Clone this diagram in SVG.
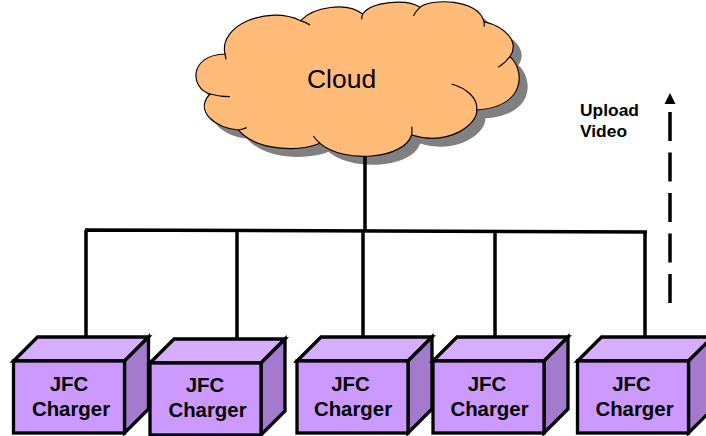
<svg xmlns="http://www.w3.org/2000/svg" width="706" height="436" viewBox="0 0 706 436">
<style>
text{font-family:"Liberation Sans",Arial,sans-serif;fill:#000}
.b{font-weight:bold;font-size:20.400px;text-anchor:middle}
.u{font-weight:bold;font-size:17.400px}
.c{fill:none;stroke:#000;stroke-width:3.500}
.f{fill:#CC99FF;stroke:#000;stroke-width:3.300}
.t{fill:#D6ADFF;stroke:#000;stroke-width:3.300}
.s{fill:#A37ACC;stroke:#000;stroke-width:3.300}
</style>
<defs>
<path id="cl" d="M135 162C115 75 265 15 362 62C400 20 500 5 548 42C575 5 680 -5 720 22C750 -5 895 -5 912 65C975 80 1020 125 990 170C1035 210 1040 320 890 330C895 370 810 440 695 405C670 480 490 490 420 430C360 455 230 455 175 390C110 385 40 335 90 282C30 265 25 165 135 162Z"/>
<g id="box">
<path class="t" d="M0 24L24 0H135L111 24Z"/>
<path class="s" d="M111 24L135 0V72L111 96Z"/>
<rect class="f" x="0" y="24" width="111" height="72"/>
</g>
</defs>
<g id="cloud">
<g transform="translate(188.500,8.500) scale(0.3333)"><use href="#cl" fill="#808080"/></g>
</g>
<g id="connectors">
<path class="c" d="M365 157V230M85 230L647 232M86 230V337M237 231V339M363 232V337M495 232V337M645 232V337"/>
<path fill="none" stroke="#000" stroke-width="3.500" stroke-dasharray="29 11.500" d="M670 303V104"/>
<path fill="#000" d="M670 93L675.500 104H664.500Z"/>
</g>
<g id="cloud-top">
<g transform="translate(180,0) scale(0.3333)">
<use href="#cl" fill="#FFBB77" stroke="#000" stroke-width="3.500"/>
<path fill="none" stroke="#000" stroke-width="3.500" d="M362 62Q378 67 390 75M548 42Q545 50 545 58M720 22Q708 33 700 48M912 65Q914 72 912 80M990 170Q975 190 955 202M815 252C860 265 895 295 890 330M695 405Q697 392 695 380M420 430Q408 420 400 408M175 390Q188 388 200 383M90 282Q120 290 150 290M135 162Q137 170 138 178"/>
</g>
<text x="341.500" y="88" font-size="26.500" text-anchor="middle">Cloud</text>
</g>
<g id="label-upload"><text class="u" x="580" y="116">Upload</text><text class="u" x="580" y="137">Video</text></g>
<g id="charger1"><use href="#box" x="13.500" y="337"/><text class="b" x="69" y="391">JFC</text><text class="b" x="71" y="416">Charger</text></g>
<g id="charger2"><use href="#box" x="150" y="339"/><text class="b" x="205" y="392">JFC</text><text class="b" x="207.500" y="417">Charger</text></g>
<g id="charger3"><use href="#box" x="297" y="337"/><text class="b" x="350.500" y="391">JFC</text><text class="b" x="353" y="416">Charger</text></g>
<g id="charger4"><use href="#box" x="433" y="337"/><text class="b" x="487" y="391">JFC</text><text class="b" x="489.500" y="416">Charger</text></g>
<g id="charger5"><use href="#box" x="577.500" y="337"/><text class="b" x="631.500" y="391">JFC</text><text class="b" x="634.500" y="416">Charger</text></g>
</svg>
